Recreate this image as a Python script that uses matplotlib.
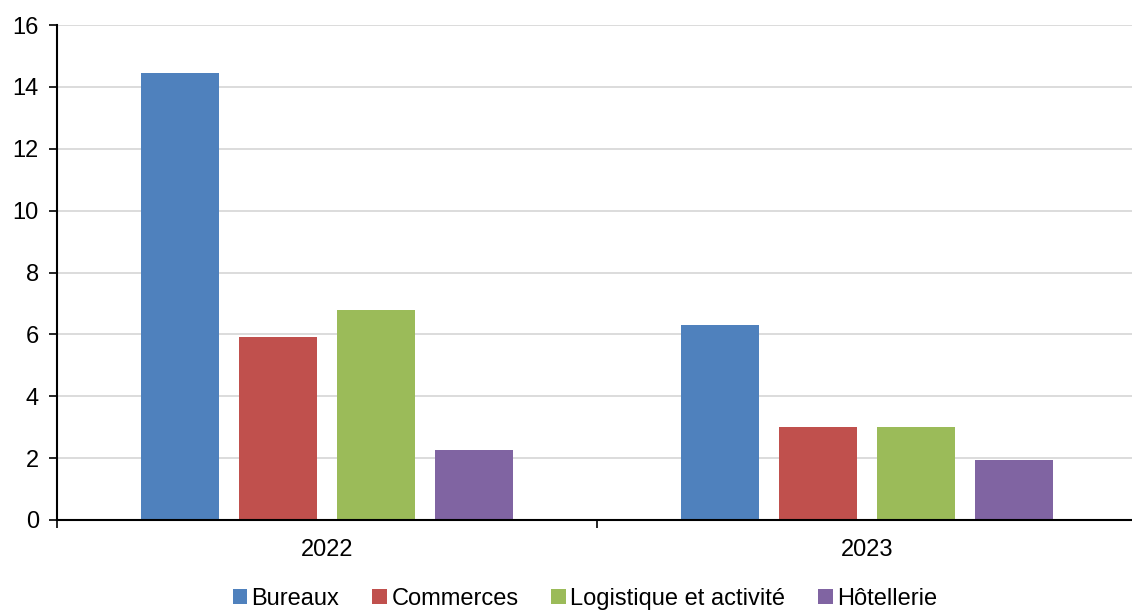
import numpy as np
import matplotlib
matplotlib.use('Agg')
import matplotlib.pyplot as plt

plt.rcParams['font.family'] = ['Liberation Sans', 'DejaVu Sans']

years = ['2022', '2023']
series = ['Bureaux', 'Commerces', 'Logistique et activité', 'Hôtellerie']
values = {
    'Bureaux': [14.45, 6.3],
    'Commerces': [5.9, 3.0],
    'Logistique et activité': [6.8, 3.0],
    'Hôtellerie': [2.25, 1.95],
}
colors = ['#4F81BD', '#C0504D', '#9BBB59', '#8064A2']

fig = plt.figure(figsize=(11.32, 6.11), dpi=100)
ax = fig.add_axes([57/1132, 1-520/611, 1080/1132, 495/611])

x = np.arange(len(years))
step = 0.1815
w = 0.143
for i, s in enumerate(series):
    ax.bar(x + (i - 1.5)*step, values[s], width=w, color=colors[i], label=s, zorder=3)

ax.set_xlim(-0.5, 1.5)
ax.set_ylim(0, 16)
ax.set_yticks(range(0, 17, 2))
ax.set_xticks(x)
ax.set_xticklabels(years)
ax.set_xticks([-0.5, 0.5, 1.5], minor=True)
ax.tick_params(axis='x', which='major', length=0, pad=14, labelsize=17)
ax.tick_params(axis='x', which='minor', length=6, width=1.2, direction='out')
ax.tick_params(axis='y', length=6, width=1.2, direction='out', labelsize=17, pad=7)
ax.grid(axis='y', color='#D9D9D9', linewidth=1.3, zorder=0)
for sp in ['top', 'right']:
    ax.spines[sp].set_visible(False)
for sp in ['left', 'bottom']:
    ax.spines[sp].set_linewidth(1.5)
    ax.spines[sp].set_color('black')
    ax.spines[sp].set_zorder(4)

ax.legend(loc='upper center', bbox_to_anchor=(0.5 - 12/1080, -0.132), ncol=4, frameon=False,
          fontsize=17, handlelength=0.6, handleheight=0.6, handletextpad=0.2, columnspacing=1.4,
          borderaxespad=0, borderpad=0.1)

fig.savefig('out.png', dpi=100)
